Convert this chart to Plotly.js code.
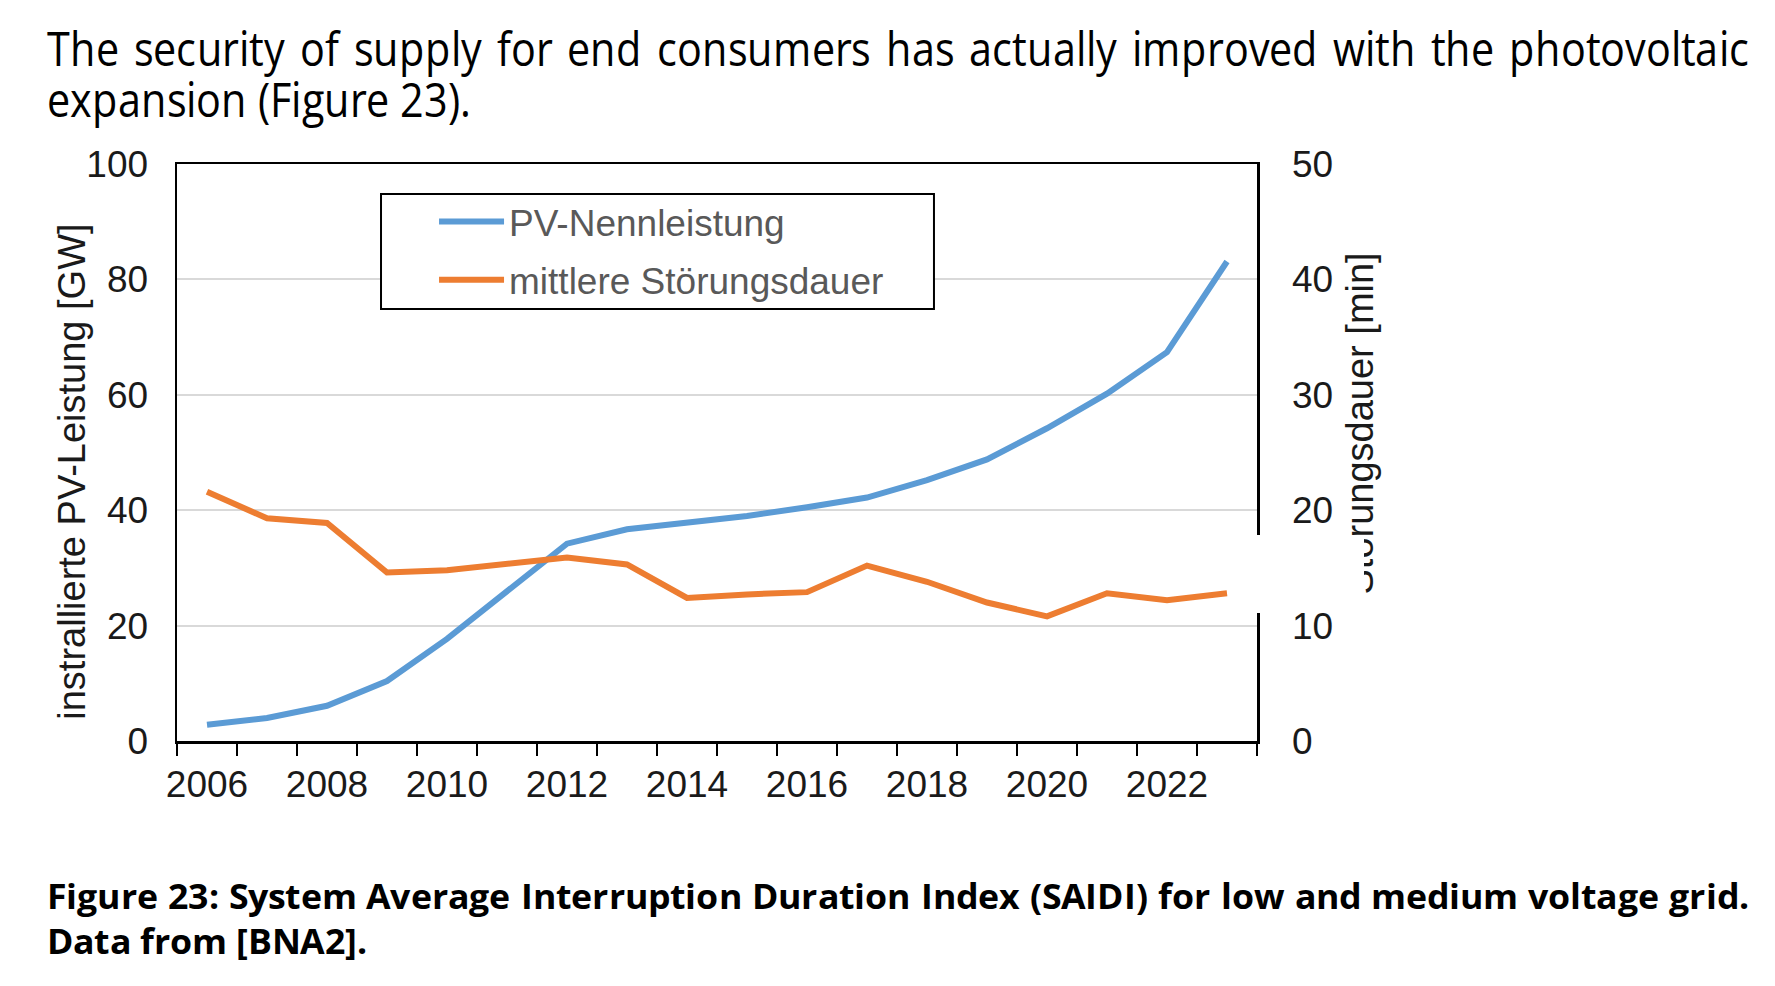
<!DOCTYPE html>
<html>
<head>
<meta charset="utf-8">
<script src="https://cdn.plot.ly/plotly-3.0.1.min.js"></script>
<style>
@font-face { font-family: 'OpenTight'; src: local('Open Sans Regular'), local('OpenSans-Regular'), local('Open Sans');
  font-weight: 400; ascent-override: 78%; descent-override: 20%; line-gap-override: 0%; }
@font-face { font-family: 'OpenTightB'; src: local('Open Sans Bold'), local('OpenSans-Bold');
  font-weight: 700; ascent-override: 78%; descent-override: 20%; line-gap-override: 0%; }
html,body{margin:0;padding:0;background:#fff;}
#wrap{position:relative;width:1775px;height:986px;overflow:hidden;background:#fff;}
#chart{position:absolute;left:0;top:0;width:1775px;height:986px;}
#overlay{position:absolute;left:0;top:0;pointer-events:none;}
</style>
</head>
<body>
<div id="wrap">
  <div id="chart"></div>
  <svg id="overlay" width="1775" height="986" xmlns="http://www.w3.org/2000/svg"></svg>
</div>
<script>
// ---- data ----
const years = [2006, 2007, 2008, 2009, 2010, 2011, 2012, 2013, 2014, 2015, 2016, 2017, 2018, 2019, 2020, 2021, 2022, 2023];
const pvCapacityGW = [2.8, 4.0, 6.1, 10.4, 17.7, 26.0, 34.2, 36.7, 37.8, 39.0, 40.5, 42.2, 45.2, 48.8, 54.2, 60.2, 67.4, 83.1];
const saidiMinutes = [21.6, 19.3, 18.9, 14.6, 14.8, 15.4, 15.9, 15.3, 12.4, 12.7, 12.9, 15.2, 13.8, 12.0, 10.8, 12.8, 12.2, 12.8];
const xTickYears = [2006, 2008, 2010, 2012, 2014, 2016, 2018, 2020, 2022];
const seriesNames = ["PV-Nennleistung", "mittlere Störungsdauer"];
const leftAxisTitle = "instrallierte PV-Leistung [GW]";
const rightAxisTitle = "Störungsdauer [min]";
const introLines = ["The security of supply for end consumers has actually improved with the photovoltaic", "expansion (Figure 23)."];
const captionLines = ["Figure 23: System Average Interruption Duration Index (SAIDI) for low and medium voltage grid.", "Data from [BNA2]."];

const AX = "'Liberation Sans', Arial, sans-serif";
const tickColor = "#1a1a1a";

const traces = [
  {x: years, y: pvCapacityGW, type: "scatter", mode: "lines", name: seriesNames[0],
   legendgroup: "a", line: {color: "#5B9BD5", width: 6}, yaxis: "y"},
  {x: years, y: saidiMinutes, type: "scatter", mode: "lines", name: seriesNames[1],
   legendgroup: "b", line: {color: "#ED7D31", width: 6}, yaxis: "y2"}
];

const layout = {
  width: 1775, height: 986,
  margin: {l: 177, r: 518, t: 164, b: 245, pad: 0},
  paper_bgcolor: "#ffffff", plot_bgcolor: "#ffffff",
  showlegend: true,
  legend: {x: 0.238, y: 0.9532, xanchor: "left", yanchor: "top",
           bgcolor: "rgba(0,0,0,0)", borderwidth: 0, itemwidth: 65,
           font: {family: AX, size: 37, color: "#595959"},
           traceorder: "grouped", tracegroupgap: 7},
  xaxis: {type: "linear", range: [2005.5, 2023.5], tickvals: xTickYears,
          ticks: "", showline: true, linecolor: "#000", linewidth: 2.5, mirror: true,
          showgrid: false, zeroline: false, ticklabelstandoff: 9,
          tickfont: {family: AX, size: 37, color: tickColor},
          minor: {dtick: 1, tick0: 2005.5, ticks: "outside", ticklen: 12, tickwidth: 2, tickcolor: "#000", showgrid: false}},
  yaxis: {range: [0, 100], tick0: 0, dtick: 20, ticks: "", showline: true, linecolor: "#000", linewidth: 2.5,
          showgrid: true, gridcolor: "#d9d9d9", gridwidth: 2, zeroline: false, ticklabelstandoff: 19,
          tickfont: {family: AX, size: 37, color: tickColor}},
  yaxis2: {range: [0, 50], tick0: 0, dtick: 10, overlaying: "y", side: "right", ticks: "",
           showline: true, linecolor: "#000", linewidth: 2.5, showgrid: false, zeroline: false,
           ticklabelstandoff: 25, tickfont: {family: AX, size: 37, color: tickColor}},
  shapes: [
    {type: "rect", xref: "paper", yref: "paper", x0: 0.1889, x1: 0.7009, y0: 0.7487, y1: 0.948,
     fillcolor: "#ffffff", line: {color: "#000", width: 2}, layer: "above"}
  ],
  annotations: [
    {text: leftAxisTitle, xref: "paper", yref: "paper", x: -0.0972, y: 0.4667, textangle: -90,
     showarrow: false, xanchor: "center", yanchor: "middle", font: {family: AX, size: 38, color: tickColor}},
    {text: rightAxisTitle, xref: "paper", yref: "paper", x: 1.0954, y: 0.5503, textangle: -90,
     showarrow: false, xanchor: "center", yanchor: "middle", font: {family: AX, size: 38, color: tickColor}}
  ]
};

function fontsReady() {
  try {
    return Promise.all([
      document.fonts.load("48px OpenTight"),
      document.fonts.load("700 35px OpenTightB")
    ]).catch(function () {});
  } catch (e) { return Promise.resolve(); }
}

Plotly.newPlot("chart", traces, layout, {displayModeBar: false, staticPlot: true})
  .then(fontsReady).then(drawOverlay);

function drawOverlay() {
  const NS = "http://www.w3.org/2000/svg";
  const svg = document.getElementById("overlay");
  // one text element per paragraph, one tspan per line
  function block(lines, family, size, weight, x, baselines, widths) {
    const t = document.createElementNS(NS, "text");
    t.setAttribute("font-family", family);
    t.setAttribute("font-size", size);
    t.setAttribute("font-weight", weight);
    t.setAttribute("fill", "#000");
    const spans = lines.map(function (s) {
      const sp = document.createElementNS(NS, "tspan");
      sp.textContent = s;
      t.appendChild(sp);
      return sp;
    });
    svg.appendChild(t);
    // horizontal scale so that the last line matches its width
    const last = spans[spans.length - 1];
    const k = widths[widths.length - 1] / last.getComputedTextLength();
    t.setAttribute("transform", "scale(" + k + ",1)");
    spans.forEach(function (sp, i) {
      sp.setAttribute("x", x / k);
      sp.setAttribute("y", baselines[i]);
    });
    // justify the first line through word spacing
    const first = spans[0];
    const target = widths[0] / k;
    const n = (first.textContent.match(/ /g) || []).length;
    const w = first.getComputedTextLength();
    first.style.wordSpacing = ((target - w) / n) + "px";
    if (Math.abs(first.getComputedTextLength() - target) > 3) {
      first.style.wordSpacing = "";
      first.setAttribute("textLength", target);
      first.setAttribute("lengthAdjust", "spacing");
    }
  }
  block(introLines, "OpenTight, 'Open Sans', sans-serif", 48, 400, 47, [66.5, 117.5], [1702, 420]);
  block(captionLines, "OpenTightB, 'Open Sans', sans-serif", 35, 700, 47, [909, 954], [1702, 323]);
  // white patch that masks part of the right axis in the original figure
  const r = document.createElementNS(NS, "rect");
  r.setAttribute("x", 1254); r.setAttribute("y", 535);
  r.setAttribute("width", 110); r.setAttribute("height", 78);
  r.setAttribute("fill", "#ffffff");
  svg.appendChild(r);
}
</script>
</body>
</html>
